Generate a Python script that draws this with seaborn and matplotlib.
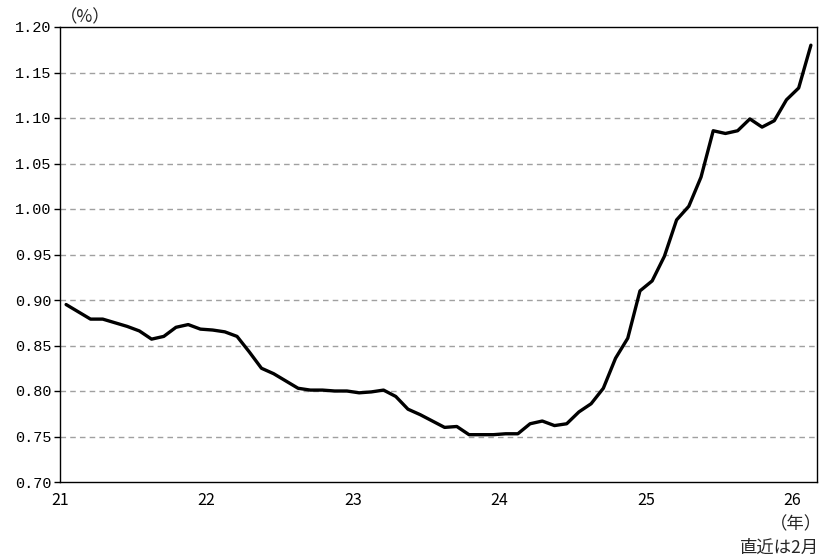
import numpy as np
import pandas as pd
import matplotlib
matplotlib.use("Agg")
import matplotlib.pyplot as plt
import seaborn as sns

# monthly values, Jan 2021 - Feb 2026 (%)
v2021 = [0.895, 0.887, 0.879, 0.879, 0.875, 0.871, 0.866, 0.857, 0.860, 0.870, 0.873, 0.868]
v2022 = [0.867, 0.865, 0.860, 0.843, 0.825, 0.819, 0.811, 0.803, 0.801, 0.801, 0.800, 0.800]
v2023 = [0.798, 0.799, 0.801, 0.794, 0.780, 0.774, 0.767, 0.760, 0.761, 0.752, 0.752, 0.752]
v2024 = [0.753, 0.753, 0.764, 0.767, 0.762, 0.764, 0.777, 0.786, 0.803, 0.836, 0.858, 0.910]
v2025 = [0.921, 0.948, 0.988, 1.003, 1.035, 1.086, 1.083, 1.086, 1.099, 1.090, 1.097, 1.120]
v2026 = [1.133, 1.180]

year_ticks = [21, 22, 23, 24, 25, 26]
y_ticks = [0.70, 0.75, 0.80, 0.85, 0.90, 0.95, 1.00, 1.05, 1.10, 1.15, 1.20]

months = pd.period_range("2021-01", "2026-02", freq="M")
df = pd.DataFrame({
    "x": (months.year - 2000) + (months.month - 0.5) / 12,
    "rate": v2021 + v2022 + v2023 + v2024 + v2025 + v2026,
})

sns.set_theme(style="white")
plt.rcParams["font.family"] = ["Noto Sans CJK JP", "DejaVu Sans"]

fig = plt.figure(figsize=(8.24, 5.6), dpi=100)
ax = fig.add_axes([60 / 824, 1 - 482 / 560, 757 / 824, 455 / 560])

for y in y_ticks[1:-1]:
    ax.axhline(y, color="#a0a0a0", lw=1.0, ls=(0, (4, 3)), zorder=1)

sns.lineplot(data=df, x="x", y="rate", color="black", lw=2.4, ax=ax, zorder=3)

ax.set_xlim(21, 21 + 62 / 12)
ax.set_ylim(0.70, 1.20)
ax.set_xlabel("")
ax.set_ylabel("")

ax.set_xticks(year_ticks)
ax.set_xticklabels([str(t) for t in year_ticks], fontsize=11.5, color="black")
ax.set_yticks(y_ticks)
ax.set_yticklabels([f"{t:.2f}" for t in y_ticks], fontsize=11, color="black",
                   family="Liberation Mono")
ax.tick_params(axis="x", direction="in", length=4, width=1, color="black", pad=7)
ax.tick_params(axis="y", direction="out", length=4, width=1, color="black", pad=2,
               left=True)

for s in ax.spines.values():
    s.set_color("black")
    s.set_linewidth(1.0)

fig.text(60 / 824, 1 - 17 / 560, "（%）", fontsize=12.5, ha="left", va="center")
fig.text(822 / 824, 1 - 524 / 560, "（年）", fontsize=12.5, ha="right", va="center")
fig.text(819 / 824, 1 - 548 / 560, "直近は2月", fontsize=12.5, ha="right", va="center")

fig.savefig("out.png", dpi=100)
